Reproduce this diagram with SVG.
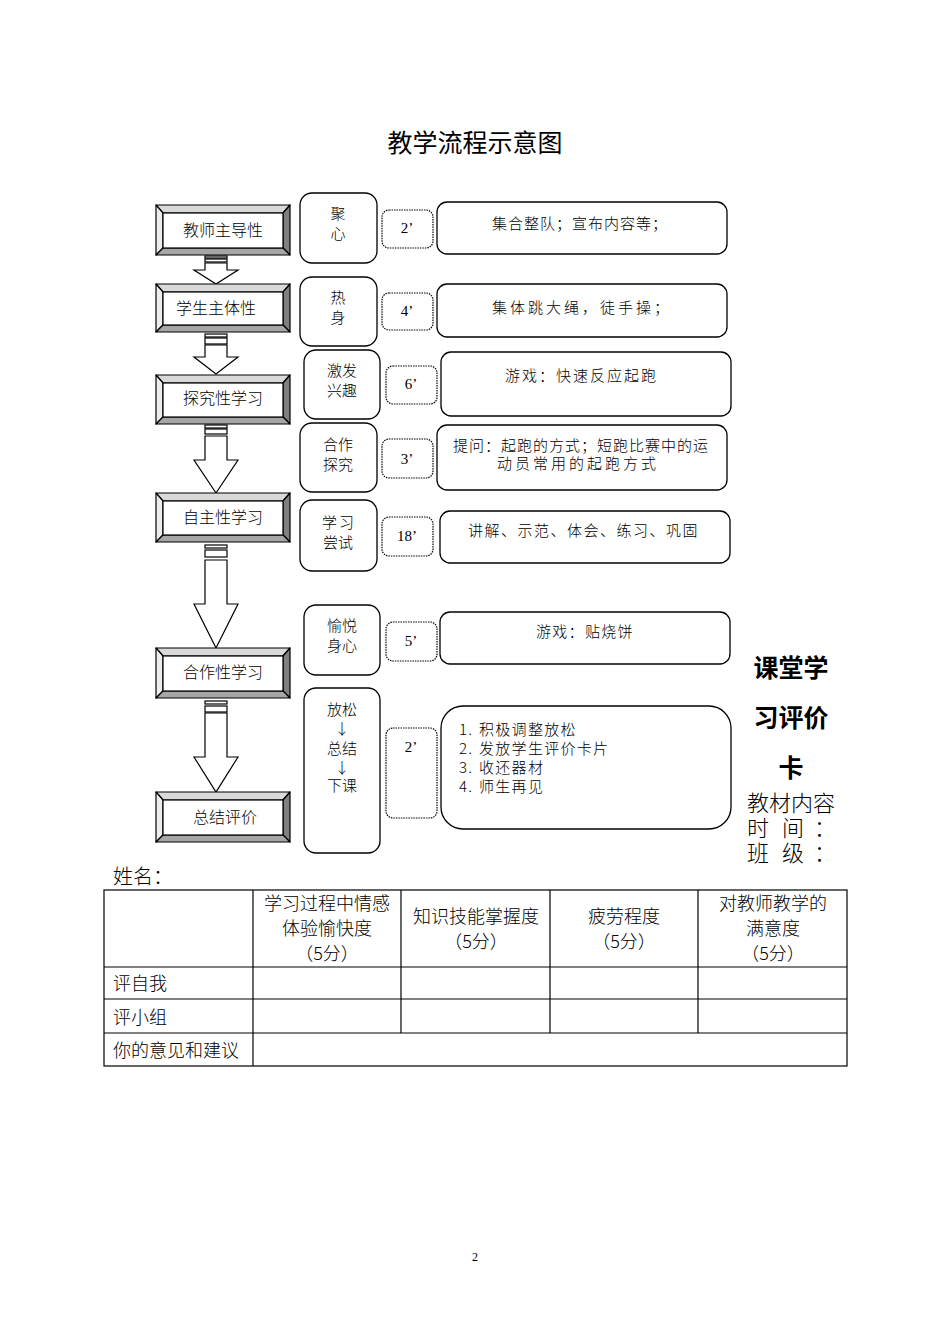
<svg xmlns="http://www.w3.org/2000/svg" width="950" height="1344" viewBox="0 0 950 1344">
<style>
.bg{fill:#fff}
.bt{fill:#d9d9d9;stroke:#000;stroke-width:1.2;stroke-linejoin:round}
.bl{fill:#ededed;stroke:#000;stroke-width:1.2;stroke-linejoin:round}
.br{fill:#808080;stroke:#000;stroke-width:1.2;stroke-linejoin:round}
.bb{fill:#a6a6a6;stroke:#000;stroke-width:1.2;stroke-linejoin:round}
.bi{fill:#fff;stroke:#000;stroke-width:1.2}
.rb{fill:#fff;stroke:#000;stroke-width:1.3}
.db{fill:#fff;stroke:#000;stroke-width:1.2;stroke-dasharray:1.5 1}
.ar{fill:#fff;stroke:#000;stroke-width:1.2;stroke-linejoin:miter}
.t{font-family:"Noto Sans CJK SC","Noto Sans",sans-serif;fill:#000}
.f{font-weight:300}
.lt{font-size:16px;text-anchor:middle}
.mt{font-size:15px;text-anchor:middle}
.tm{font-family:"Liberation Serif","DejaVu Serif",serif;font-size:15px;text-anchor:middle;fill:#000}
.rt{font-size:15px}
.tb{font-size:18px;font-weight:300}
.tc{text-anchor:middle}
.grid{fill:none;stroke:#000;stroke-width:1.2}
</style>
<rect class="bg" x="0" y="0" width="950" height="1344"/>
<text class="t" x="475" y="152" font-size="25" text-anchor="middle">教学流程示意图</text>

<g id="connectors">
  <rect class="ar" x="205" y="256" width="22" height="2"/>
  <rect class="ar" x="205" y="259" width="22" height="3"/>
  <polygon class="ar" points="205,263 227,263 227,270 238,270 216,284 194,270 205,270"/>
  <rect class="ar" x="205" y="334" width="22" height="3"/>
  <rect class="ar" x="205" y="338" width="22" height="6"/>
  <polygon class="ar" points="205,345 227,345 227,357 238,357 216,374 194,357 205,357"/>
  <rect class="ar" x="205" y="425" width="22" height="3"/>
  <rect class="ar" x="205" y="429" width="22" height="5"/>
  <polygon class="ar" points="205,436 227,436 227,460 238,460 216,493 194,460 205,460"/>
  <rect class="ar" x="205" y="545" width="22" height="3"/>
  <rect class="ar" x="205" y="550" width="22" height="7"/>
  <polygon class="ar" points="205,560 227,560 227,604 238,604 216,648 194,604 205,604"/>
  <rect class="ar" x="205" y="701" width="22" height="3"/>
  <rect class="ar" x="205" y="706" width="22" height="6"/>
  <polygon class="ar" points="205,713 227,713 227,757 238,757 216,792 194,757 205,757"/>
</g>

<g id="n1">
  <polygon class="bt" points="156,205 290,205 283,213 163,213"/>
  <polygon class="bl" points="156,205 163,213 163,248 156,255"/>
  <polygon class="br" points="290,205 290,255 283,248 283,213"/>
  <polygon class="bb" points="156,255 163,248 283,248 290,255"/>
  <rect class="bi" x="163" y="213" width="120" height="35"/>
  <text class="t f lt" x="223" y="236">教师主导性</text>
</g>
<g id="n2">
  <polygon class="bt" points="156,284 290,284 283,292 163,292"/>
  <polygon class="bl" points="156,284 163,292 163,325 156,332"/>
  <polygon class="br" points="290,284 290,332 283,325 283,292"/>
  <polygon class="bb" points="156,332 163,325 283,325 290,332"/>
  <rect class="bi" x="163" y="292" width="120" height="33"/>
  <text class="t f lt" x="216" y="314">学生主体性</text>
</g>
<g id="n3">
  <polygon class="bt" points="156,375 290,375 283,383 163,383"/>
  <polygon class="bl" points="156,375 163,383 163,417 156,424"/>
  <polygon class="br" points="290,375 290,424 283,417 283,383"/>
  <polygon class="bb" points="156,424 163,417 283,417 290,424"/>
  <rect class="bi" x="163" y="383" width="120" height="34"/>
  <text class="t f lt" x="223" y="404">探究性学习</text>
</g>
<g id="n4">
  <polygon class="bt" points="156,493 290,493 283,501 163,501"/>
  <polygon class="bl" points="156,493 163,501 163,535 156,542"/>
  <polygon class="br" points="290,493 290,542 283,535 283,501"/>
  <polygon class="bb" points="156,542 163,535 283,535 290,542"/>
  <rect class="bi" x="163" y="501" width="120" height="34"/>
  <text class="t f lt" x="223" y="523">自主性学习</text>
</g>
<g id="n5">
  <polygon class="bt" points="156,648 290,648 283,656 163,656"/>
  <polygon class="bl" points="156,648 163,656 163,691 156,698"/>
  <polygon class="br" points="290,648 290,698 283,691 283,656"/>
  <polygon class="bb" points="156,698 163,691 283,691 290,698"/>
  <rect class="bi" x="163" y="656" width="120" height="35"/>
  <text class="t f lt" x="223" y="678">合作性学习</text>
</g>
<g id="n6">
  <polygon class="bt" points="156,792 290,792 283,800 163,800"/>
  <polygon class="bl" points="156,792 163,800 163,835 156,842"/>
  <polygon class="br" points="290,792 290,842 283,835 283,800"/>
  <polygon class="bb" points="156,842 163,835 283,835 290,842"/>
  <rect class="bi" x="163" y="800" width="120" height="35"/>
  <text class="t f lt" x="225" y="823">总结评价</text>
</g>

<g id="m1">
  <rect class="rb" x="300" y="193" width="77" height="70" rx="12"/>
  <text class="t f mt" x="338" y="219">聚</text>
  <text class="t f mt" x="338" y="239">心</text>
</g>
<g id="m2">
  <rect class="rb" x="300" y="277" width="77" height="69" rx="12"/>
  <text class="t f mt" x="338" y="303">热</text>
  <text class="t f mt" x="338" y="323">身</text>
</g>
<g id="m3">
  <rect class="rb" x="304" y="350" width="76" height="69" rx="12"/>
  <text class="t f mt" x="342" y="376">激发</text>
  <text class="t f mt" x="342" y="396">兴趣</text>
</g>
<g id="m4">
  <rect class="rb" x="300" y="423" width="77" height="69" rx="12"/>
  <text class="t f mt" x="338" y="450">合作</text>
  <text class="t f mt" x="338" y="470">探究</text>
</g>
<g id="m5">
  <rect class="rb" x="300" y="500" width="77" height="71" rx="12"/>
  <text class="t f mt" x="339" y="528" letter-spacing="2">学习</text>
  <text class="t f mt" x="338" y="548">尝试</text>
</g>
<g id="m6">
  <rect class="rb" x="304" y="605" width="76" height="70" rx="12"/>
  <text class="t f mt" x="342" y="631">愉悦</text>
  <text class="t f mt" x="342" y="651">身心</text>
</g>
<g id="m7">
  <rect class="rb" x="304" y="688" width="76" height="165" rx="12"/>
  <text class="t f mt" x="342" y="715">放松</text>
  <text class="t f mt" x="342" y="734">↓</text>
  <text class="t f mt" x="342" y="754">总结</text>
  <text class="t f mt" x="342" y="773">↓</text>
  <text class="t f mt" x="342" y="791">下课</text>
</g>

<g id="d1"><rect class="db" x="382" y="210" width="51" height="38" rx="7"/><text class="tm" x="407" y="233">2’</text></g>
<g id="d2"><rect class="db" x="382" y="293" width="51" height="37" rx="7"/><text class="tm" x="407" y="316">4’</text></g>
<g id="d3"><rect class="db" x="386" y="366" width="51" height="38" rx="7"/><text class="tm" x="411" y="389">6’</text></g>
<g id="d4"><rect class="db" x="382" y="439" width="51" height="39" rx="7"/><text class="tm" x="407" y="464">3’</text></g>
<g id="d5"><rect class="db" x="382" y="517" width="51" height="39" rx="7"/><text class="tm" x="407" y="541">18’</text></g>
<g id="d6"><rect class="db" x="386" y="622" width="51" height="39" rx="7"/><text class="tm" x="411" y="646">5’</text></g>
<g id="d7"><rect class="db" x="386" y="728" width="51" height="90" rx="7"/><text class="tm" x="411" y="752">2’</text></g>

<g id="r1">
  <rect class="rb" x="437" y="202" width="290" height="52" rx="10"/>
  <text class="t f rt" x="492" y="229" letter-spacing="1">集合整队；宣布内容等；</text>
</g>
<g id="r2">
  <rect class="rb" x="437" y="284" width="290" height="53" rx="10"/>
  <text class="t f rt" x="492" y="313" letter-spacing="3">集体跳大绳，徒手操；</text>
</g>
<g id="r3">
  <rect class="rb" x="441" y="352" width="290" height="64" rx="10"/>
  <text class="t f rt" x="505" y="381" letter-spacing="2">游戏：快速反应起跑</text>
</g>
<g id="r4">
  <rect class="rb" x="437" y="425" width="290" height="65" rx="10"/>
  <text class="t f rt" x="453" y="451" letter-spacing="1">提问：起跑的方式；短跑比赛中的运</text>
  <text class="t f rt" x="497" y="469" letter-spacing="3">动员常用的起跑方式</text>
</g>
<g id="r5">
  <rect class="rb" x="440" y="511" width="290" height="52" rx="10"/>
  <text class="t f rt" x="468" y="536" letter-spacing="1.5">讲解、示范、体会、练习、巩固</text>
</g>
<g id="r6">
  <rect class="rb" x="440" y="612" width="290" height="52" rx="10"/>
  <text class="t f rt" x="536" y="637" letter-spacing="1.3">游戏：贴烧饼</text>
</g>
<g id="r7">
  <rect class="rb" x="441" y="706" width="290" height="123" rx="22"/>
  <text class="t f rt" y="735" letter-spacing="1.3"><tspan x="459">1.</tspan><tspan x="479">积极调整放松</tspan></text>
  <text class="t f rt" y="754" letter-spacing="1.3"><tspan x="459">2.</tspan><tspan x="479">发放学生评价卡片</tspan></text>
  <text class="t f rt" y="773" letter-spacing="1.3"><tspan x="459">3.</tspan><tspan x="479">收还器材</tspan></text>
  <text class="t f rt" y="792" letter-spacing="1.3"><tspan x="459">4.</tspan><tspan x="479">师生再见</tspan></text>
</g>

<g id="card">
  <text class="t" x="791" y="677" font-size="25" font-weight="bold" text-anchor="middle">课堂学</text>
  <text class="t" x="791" y="727" font-size="25" font-weight="bold" text-anchor="middle">习评价</text>
  <text class="t" x="791" y="777" font-size="25" font-weight="bold" text-anchor="middle">卡</text>
  <text class="t f" x="747" y="811" font-size="22">教材内容</text>
  <text class="t f" y="836" font-size="22"><tspan x="747">时</tspan><tspan x="782">间</tspan><tspan x="814">：</tspan></text>
  <text class="t f" y="861" font-size="22"><tspan x="747">班</tspan><tspan x="782">级</tspan><tspan x="814">：</tspan></text>
  <text class="t f" x="113" y="884" font-size="20">姓名：</text>
</g>

<g id="table">
  <rect class="grid" x="104" y="890" width="743" height="176"/>
  <line class="grid" x1="104" y1="967" x2="847" y2="967"/>
  <line class="grid" x1="104" y1="999" x2="847" y2="999"/>
  <line class="grid" x1="104" y1="1033" x2="847" y2="1033"/>
  <line class="grid" x1="253" y1="890" x2="253" y2="1066"/>
  <line class="grid" x1="401" y1="890" x2="401" y2="1033"/>
  <line class="grid" x1="550" y1="890" x2="550" y2="1033"/>
  <line class="grid" x1="698" y1="890" x2="698" y2="1033"/>
  <text class="t tb tc" x="327" y="910">学习过程中情感</text>
  <text class="t tb tc" x="327" y="935">体验愉快度</text>
  <text class="t tb tc" x="327" y="960">（5分）</text>
  <text class="t tb tc" x="476" y="923">知识技能掌握度</text>
  <text class="t tb tc" x="476" y="948">（5分）</text>
  <text class="t tb tc" x="624" y="923">疲劳程度</text>
  <text class="t tb tc" x="624" y="948">（5分）</text>
  <text class="t tb tc" x="773" y="910">对教师教学的</text>
  <text class="t tb tc" x="773" y="935">满意度</text>
  <text class="t tb tc" x="773" y="960">（5分）</text>
  <text class="t tb" x="113" y="990">评自我</text>
  <text class="t tb" x="113" y="1024">评小组</text>
  <text class="t tb" x="113" y="1057">你的意见和建议</text>
</g>
<text x="475" y="1261" font-family="Liberation Serif, serif" font-size="12" text-anchor="middle">2</text>
</svg>
